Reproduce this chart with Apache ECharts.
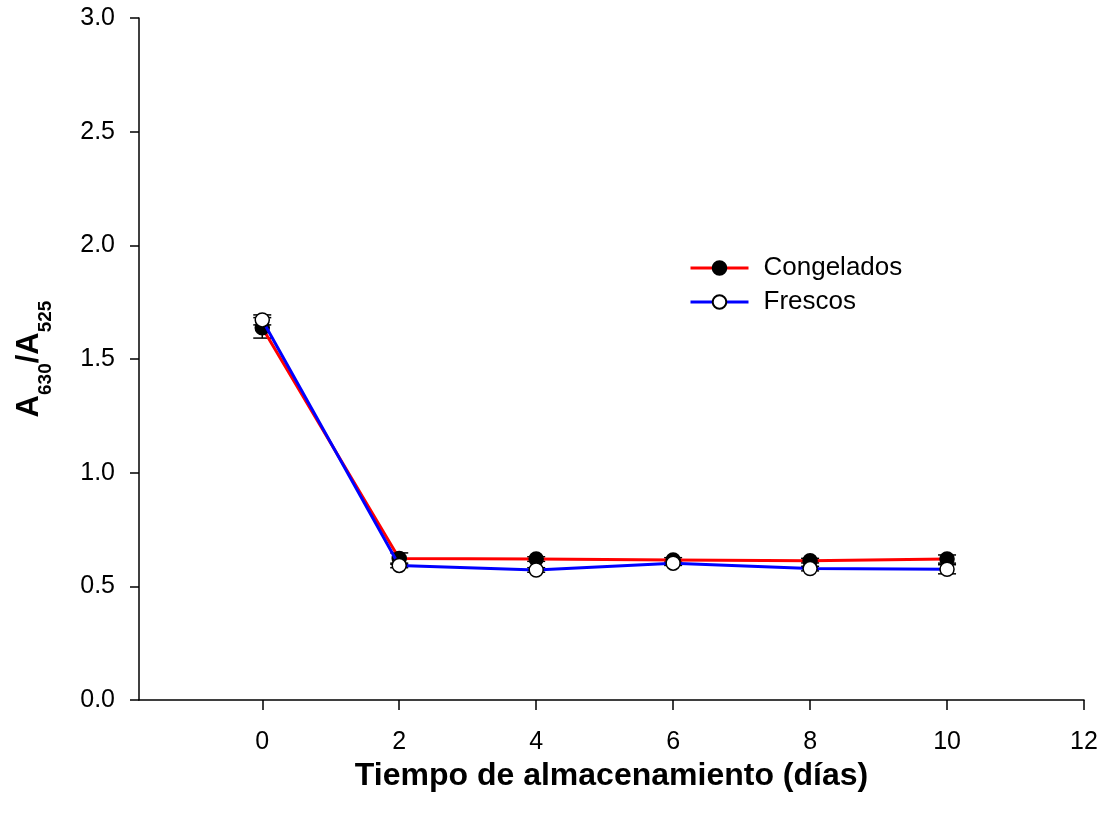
<!DOCTYPE html>
<html>
<head>
<meta charset="utf-8">
<script src="https://cdn.jsdelivr.net/npm/echarts@6/dist/echarts.min.js"></script>
<style>html,body{margin:0;padding:0;background:#fff;}#c{width:1105px;height:818px;}</style>
</head>
<body>
<div id="c"></div>
<script>
const days = [0, 2, 4, 6, 8, 10];
const congelados = [1.637, 0.622, 0.620, 0.616, 0.613, 0.620];
const congeladosErr = [0.045, 0.025, 0.010, 0.010, 0.010, 0.018];
const frescos = [1.672, 0.592, 0.572, 0.602, 0.578, 0.575];
const frescosErr = [0.022, 0.010, 0.010, 0.010, 0.010, 0.020];
const xTicks = [0, 2, 4, 6, 8, 10, 12];
const seriesNames = ['Congelados', 'Frescos'];

const chart = echarts.init(document.getElementById('c'), null, {renderer: 'canvas'});
const font = '"Liberation Sans", Arial, sans-serif';

function pairs(xs, ys) { return xs.map((x, i) => [x, ys[i]]); }
function errData(xs, ys, es) { return xs.map((x, i) => [x, ys[i], es[i]]); }

function errRender(params, api) {
  const x = api.value(0), y = api.value(1), e = api.value(2);
  const lo = api.coord([x, y - e]);
  const hi = api.coord([x, y + e]);
  const w = 9;
  const style = {stroke: '#000', lineWidth: 1.5};
  return {
    type: 'group',
    children: [
      {type: 'line', shape: {x1: lo[0], y1: lo[1], x2: hi[0], y2: hi[1]}, style: style},
      {type: 'line', shape: {x1: lo[0] - w, y1: lo[1], x2: lo[0] + w, y2: lo[1]}, style: style},
      {type: 'line', shape: {x1: hi[0] - w, y1: hi[1], x2: hi[0] + w, y2: hi[1]}, style: style}
    ]
  };
}

const option = {
  animation: false,
  backgroundColor: '#fff',
  grid: {left: 139, right: 21, top: 18, bottom: 118, containLabel: false},
  legend: {
    orient: 'vertical',
    left: 684,
    top: 250,
    itemWidth: 58,
    itemHeight: 17,
    itemGap: 8,
    data: seriesNames,
    lineStyle: {width: 3},
    textStyle: {fontFamily: font, fontSize: 26, color: '#000', padding: [0, 0, 0, 10]}
  },
  xAxis: {
    type: 'value',
    min: -1.8,
    max: 12,
    axisLine: {onZero: false, lineStyle: {color: '#000', width: 1.5}},
    axisTick: {show: true, inside: false, length: 10, customValues: xTicks, lineStyle: {color: '#000', width: 1.5}},
    axisLabel: {customValues: xTicks, margin: 30, fontFamily: font, fontSize: 25, color: '#000'},
    splitLine: {show: false},
    name: 'Tiempo de almacenamiento (días)',
    nameLocation: 'middle',
    nameGap: 57,
    nameTextStyle: {fontFamily: font, fontSize: 32, fontWeight: 'bold', color: '#000'}
  },
  yAxis: {
    type: 'value',
    min: 0,
    max: 3,
    interval: 0.5,
    axisLine: {show: true, onZero: false, lineStyle: {color: '#000', width: 1.5}},
    axisTick: {show: true, inside: false, length: 9, lineStyle: {color: '#000', width: 1.5}},
    axisLabel: {margin: 24, fontFamily: font, fontSize: 25, color: '#000', formatter: v => v.toFixed(1)},
    splitLine: {show: false},
    name: '{a|A}{s|630}{a|/A}{s|525}',
    nameLocation: 'middle',
    nameGap: 94,
    nameRotate: 90,
    nameTextStyle: {
      fontFamily: font, color: '#000',
      rich: {
        a: {fontFamily: font, fontSize: 31, fontWeight: 'bold', color: '#000', verticalAlign: 'bottom', lineHeight: 36},
        s: {fontFamily: font, fontSize: 19, fontWeight: 'bold', color: '#000', verticalAlign: 'bottom', lineHeight: 24, padding: [0, 0, -10, 0]}
      }
    }
  },
  series: [
    {
      name: 'errC', type: 'custom', renderItem: errRender, z: 1,
      data: errData(days, congelados, congeladosErr), encode: {x: 0, y: 1}, silent: true
    },
    {
      name: 'errF', type: 'custom', renderItem: errRender, z: 1,
      data: errData(days, frescos, frescosErr), encode: {x: 0, y: 1}, silent: true
    },
    {
      name: 'Congelados', type: 'line', z: 3,
      data: pairs(days, congelados),
      symbol: 'circle', symbolSize: 14,
      lineStyle: {color: '#ff0000', width: 3},
      itemStyle: {color: '#000', borderColor: '#000', borderWidth: 1.5},
      emphasis: {disabled: true}
    },
    {
      name: 'Frescos', type: 'line', z: 4,
      data: pairs(days, frescos),
      symbol: 'circle', symbolSize: 14,
      lineStyle: {color: '#0000ff', width: 3},
      itemStyle: {color: '#fff', borderColor: '#000', borderWidth: 1.5},
      emphasis: {disabled: true}
    }
  ]
};
chart.setOption(option);
</script>
</body>
</html>
